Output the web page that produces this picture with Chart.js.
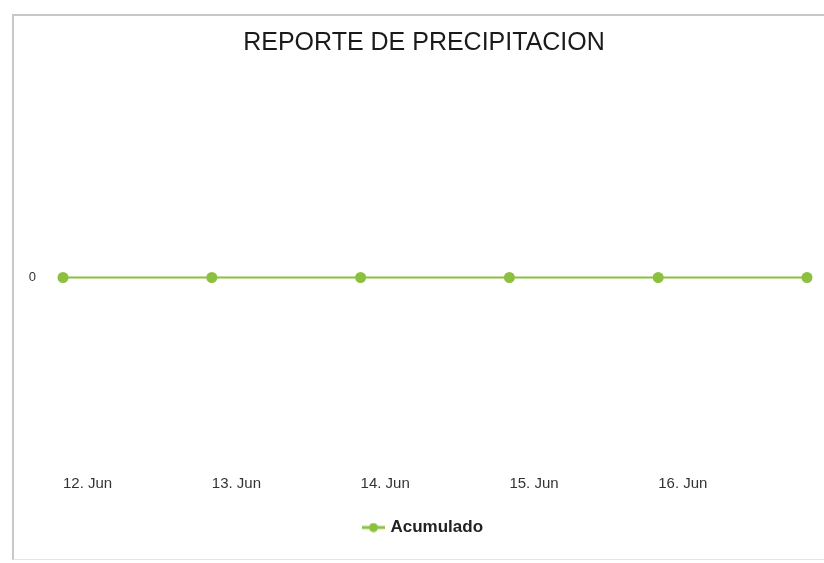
<!DOCTYPE html>
<html>
<head>
<meta charset="utf-8">
<script src="https://cdn.jsdelivr.net/npm/chart.js@4.4.0/dist/chart.umd.min.js"></script>
<style>
  body { margin: 0; background: #fff; overflow: hidden; }
  #frame {
    position: absolute; left: 12px; top: 14px;
    width: 836px; height: 546px;
    border-top: 2px solid #c8c8cc; border-left: 2px solid #c8c8cc;
    border-bottom: 1px solid #e4e4e4;
    box-sizing: border-box;
  }
  #wrap { position: absolute; left: 0; top: 0; width: 834px; height: 543px; }
</style>
</head>
<body>
<div id="frame"><div id="wrap"><canvas id="chart"></canvas></div></div>
<script>
// Chart data
const labels = ['12. Jun', '13. Jun', '14. Jun', '15. Jun', '16. Jun', ''];
const acumulado = [0, 0, 0, 0, 0, 0];
const yTicks = [0];

const green = '#8cc03e';

// legend symbol: short line with a dot in the middle
const sym = document.createElement('canvas');
sym.width = 23; sym.height = 10;
const sctx = sym.getContext('2d');
sctx.strokeStyle = green; sctx.lineWidth = 3;
sctx.beginPath(); sctx.moveTo(0, 5); sctx.lineTo(23, 5); sctx.stroke();
sctx.fillStyle = green;
sctx.beginPath(); sctx.arc(11.5, 5, 4.5, 0, Math.PI * 2); sctx.fill();

Chart.defaults.font.family = '"Liberation Sans", Arial, sans-serif';

const ctx = document.getElementById('chart').getContext('2d');
new Chart(ctx, {
  type: 'line',
  data: {
    labels: labels,
    datasets: [{
      label: 'Acumulado',
      data: acumulado,
      borderColor: green,
      backgroundColor: green,
      borderWidth: 2,
      pointRadius: 4.5,
      pointBackgroundColor: green,
      pointBorderColor: green
    }]
  },
  options: {
    responsive: true,
    maintainAspectRatio: false,
    animation: false,
    layout: { padding: { left: 0, right: 14, top: 0, bottom: 13 } },
    scales: {
      x: {
        grid: { display: false },
        border: { display: false },
        ticks: {
          align: 'start',
          maxRotation: 0,
          autoSkip: false,
          padding: 0,
          color: '#333',
          font: { size: 15 }
        },
        afterFit: axis => { axis.height = 42; }
      },
      y: {
        min: -1,
        max: 1,
        grid: { display: false },
        border: { display: false },
        afterBuildTicks: axis => { axis.ticks = yTicks.map(v => ({ value: v })); },
        ticks: { color: '#333', font: { size: 13 }, padding: 19 },
        afterFit: axis => { axis.width = 49; }
      },
      // empty axis on the right, only keeps the plot clear of the edge
      y2: {
        position: 'right',
        grid: { display: false },
        border: { display: false },
        ticks: { display: false },
        afterFit: axis => { axis.width = 27; }
      }
    },
    plugins: {
      title: {
        display: true,
        text: 'REPORTE DE PRECIPITACION',
        color: '#1a1a1a',
        font: { size: 25, weight: 'normal' },
        padding: { top: 12, bottom: 30 }
      },
      legend: {
        position: 'bottom',
        labels: {
          usePointStyle: true,
          pointStyle: sym,
          color: '#222',
          font: { size: 17, weight: 'bold' },
          padding: 10
        }
      },
      tooltip: { enabled: false }
    }
  }
});
</script>
</body>
</html>
